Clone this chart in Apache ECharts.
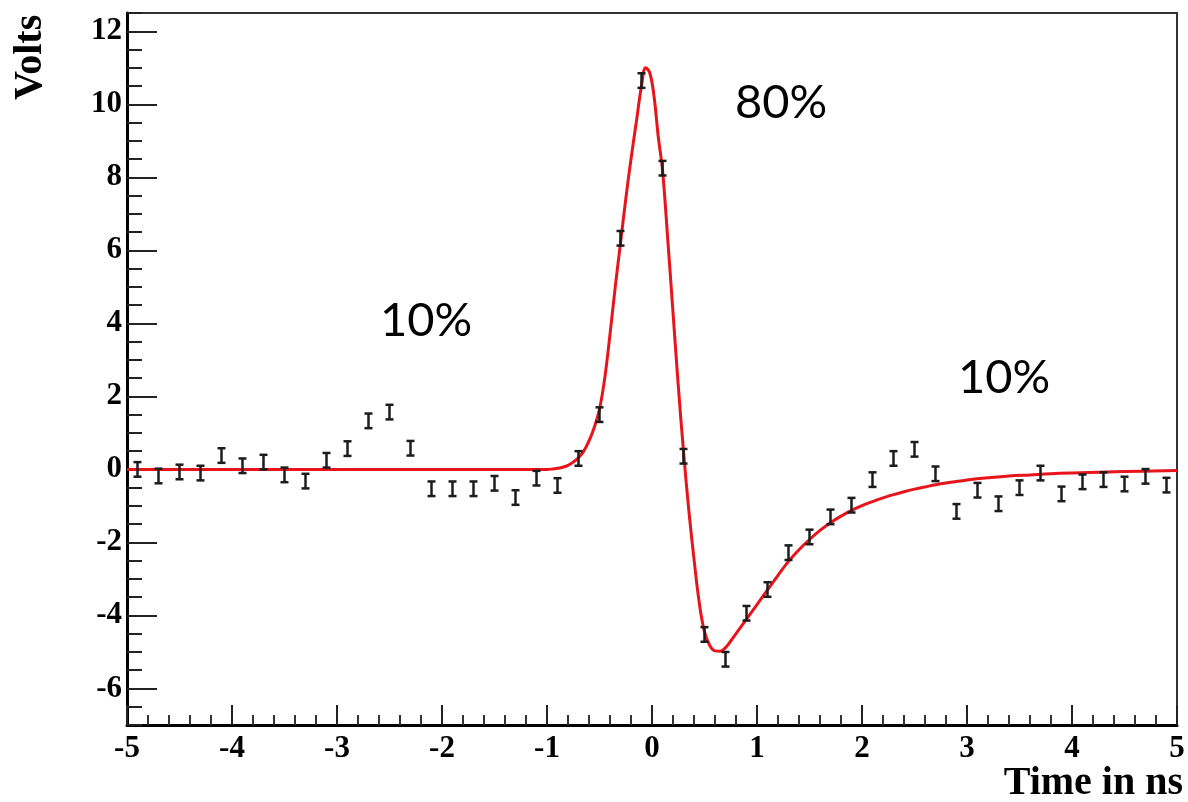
<!DOCTYPE html>
<html>
<head>
<meta charset="utf-8">
<script src="https://cdn.jsdelivr.net/npm/echarts@6/dist/echarts.min.js"></script>
<style>
html,body{margin:0;padding:0;background:#fff;}
#chart{width:1188px;height:802px;}
</style>
</head>
<body>
<div id="chart"></div>
<script>
// Measured points (time in ns, volts)
const pointTimes = [-4.9,-4.7,-4.5,-4.3,-4.1,-3.9,-3.7,-3.5,-3.3,-3.1,
  -2.9,-2.7,-2.5,-2.3,-2.1,-1.9,-1.7,-1.5,-1.3,-1.1,
  -0.9,-0.7,-0.5,-0.3,-0.1,0.1,0.3,0.5,0.7,0.9,
  1.1,1.3,1.5,1.7,1.9,2.1,2.3,2.5,2.7,2.9,
  3.1,3.3,3.5,3.7,3.9,4.1,4.3,4.5,4.7,4.9];
const pointVolts = [0.0,-0.18,-0.07,-0.1,0.38,0.1,0.2,-0.15,-0.32,0.25,
  0.57,1.33,1.57,0.58,-0.53,-0.53,-0.53,-0.38,-0.77,-0.24,
  -0.44,0.3,1.5,6.33,10.65,8.25,0.36,-4.52,-5.2,-3.94,
  -3.29,-2.28,-1.85,-1.3,-0.98,-0.28,0.3,0.55,-0.12,-1.15,
  -0.57,-0.94,-0.5,-0.1,-0.67,-0.34,-0.28,-0.4,-0.19,-0.43];
const errorHalf = 0.2;

// Fitted curve
const fitTimes = [-5,-4,-3,-2,-1.5,-1.2,-1.0,-0.95,-0.9,-0.85,-0.8,-0.75,-0.7,-0.65,-0.6,-0.55,-0.5,-0.45,-0.4,-0.35,-0.3,-0.25,-0.2,-0.15,-0.1,-0.06,
  -0.02,0.02,0.06,0.1,0.15,0.2,0.25,0.3,0.35,0.4,0.45,0.5,0.55,0.6,0.65,0.7,0.75,0.8,0.9,1.0,1.1,1.2,1.3,1.4,1.5,1.6,1.7,1.8,1.9,2.0,
  2.1,2.2,2.3,2.4,2.5,2.6,2.7,2.8,2.9,3.0,3.2,3.4,3.6,3.8,4.0,4.5,5.0];
const fitVolts = [0,0,0,0,0,0,0,0.01,0.03,0.06,0.11,0.2,0.32,0.5,0.78,1.15,1.65,2.5,3.7,5.0,6.2,7.4,8.5,9.5,10.5,11.0,
  10.85,10.2,9.1,8.2,6.3,4.3,2.3,0.5,-1.1,-2.45,-3.65,-4.45,-4.82,-4.97,-4.98,-4.88,-4.7,-4.5,-4.1,-3.7,-3.3,-2.9,-2.52,-2.2,-1.92,-1.67,-1.46,-1.28,-1.12,-0.99,
  -0.88,-0.78,-0.69,-0.61,-0.54,-0.48,-0.42,-0.37,-0.33,-0.29,-0.23,-0.18,-0.15,-0.12,-0.1,-0.06,-0.03];

// Axis tick labels
const yMajorTicks = [-6,-4,-2,0,2,4,6,8,10,12];
const xTitle = 'Time in ns';
const yTitle = 'Volts';
const annotations = [
  {text:'10%', left:380, top:297},
  {text:'80%', left:735, top:79},
  {text:'10%', left:958, top:354}
];

const serif = '"Liberation Serif","DejaVu Serif",serif';

const errData = pointTimes.map((t,i)=>[t, pointVolts[i], errorHalf]);
const fitData = fitTimes.map((t,i)=>[t, fitVolts[i]]);

const chart = echarts.init(document.getElementById('chart'));
chart.setOption({
  animation:false,
  backgroundColor:'#fff',
  grid:{left:127,right:11,top:13,bottom:77,show:true,borderColor:'#333',borderWidth:2,backgroundColor:'transparent'},
  xAxis:{
    type:'value',min:-5,max:5,interval:1,
    axisLine:{onZero:false,lineStyle:{color:'#000',width:3}},
    axisTick:{inside:true,length:20,lineStyle:{color:'#222',width:2}},
    minorTick:{show:true,splitNumber:5,length:10,lineStyle:{color:'#333',width:2}},
    splitLine:{show:false},
    axisLabel:{fontFamily:serif,fontWeight:'bold',fontSize:31,color:'#000',margin:8}
  },
  yAxis:[{
    type:'value',min:-7,max:12.5,interval:0.5,position:'left',
    axisLine:{show:true,onZero:false,lineStyle:{color:'#000',width:3}},
    axisTick:{inside:true,length:15,lineStyle:{color:'#222',width:2}},
    axisLabel:{show:false},
    splitLine:{show:false}
  },{
    type:'value',min:-7,max:12.5,position:'left',
    axisLine:{show:false,onZero:false},
    axisTick:{show:true,inside:true,length:30,customValues:yMajorTicks,lineStyle:{color:'#222',width:2}},
    axisLabel:{customValues:yMajorTicks,fontFamily:serif,fontWeight:'bold',fontSize:31,color:'#000',margin:5},
    splitLine:{show:false}
  }],
  series:[{
    type:'line',data:fitData,showSymbol:false,smooth:0.4,
    lineStyle:{color:'#e8141c',width:3},z:2
  },{
    type:'custom',data:errData,z:3,
    renderItem:function(params,api){
      const x=api.value(0), y=api.value(1), e=api.value(2);
      const top=api.coord([x,y+e]), bot=api.coord([x,y-e]);
      const w=4;
      const st={stroke:'#1c1c1c',lineWidth:2.5};
      return {type:'group',children:[
        {type:'line',shape:{x1:top[0],y1:top[1],x2:bot[0],y2:bot[1]},style:st},
        {type:'line',shape:{x1:top[0]-w,y1:top[1],x2:top[0]+w,y2:top[1]},style:st},
        {type:'line',shape:{x1:bot[0]-w,y1:bot[1],x2:bot[0]+w,y2:bot[1]},style:st}
      ]};
    }
  }],
  graphic:[
    {type:'text',right:5,top:764,style:{text:xTitle,font:'bold 40px '+serif,fill:'#000'}},
    {type:'text',x:11,y:100,rotation:Math.PI/2,style:{text:yTitle,font:'bold 40px '+serif,fill:'#000',textAlign:'left',textVerticalAlign:'top'}}
  ].concat(annotations.map(a=>({type:'text',left:a.left,top:a.top,style:{text:a.text,font:'47px Lato, "Noto Sans", sans-serif',fill:'#000'}})))
});
</script>
</body>
</html>
